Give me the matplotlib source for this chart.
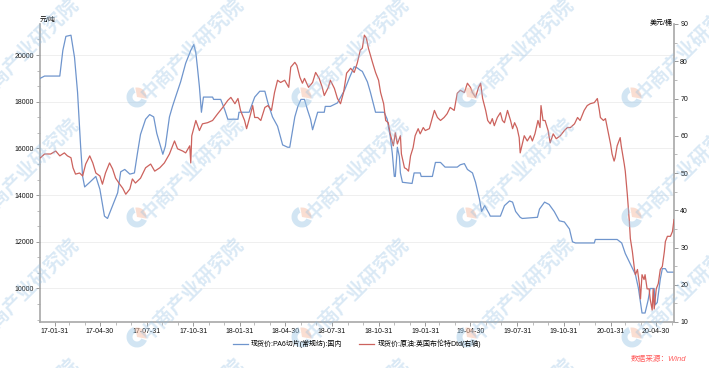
import matplotlib
matplotlib.use('Agg')
import matplotlib.pyplot as plt
import pandas as pd
from matplotlib.ticker import AutoMinorLocator, MultipleLocator
from matplotlib.patches import Wedge
from matplotlib.lines import Line2D

plt.rcParams['font.family'] = ['Liberation Sans', 'Noto Sans CJK SC', 'DejaVu Sans']

# ---------------- data ----------------
blue_label = '现货价:PA6切片(常规纺):国内'
red_label = '现货价:原油:英国布伦特Dtd(右轴)'
left_unit = '元/吨'
right_unit = '美元/桶'
source_text = '数据来源：Wind'

blue_dates = ['2017-01-02','2017-01-11','2017-02-10','2017-02-16','2017-02-22','2017-03-04','2017-03-11','2017-03-17','2017-03-23','2017-03-27',
              '2017-03-31','2017-04-10','2017-04-22','2017-04-30','2017-05-09','2017-05-15','2017-05-25','2017-06-04','2017-06-10','2017-06-18',
              '2017-06-28','2017-07-07','2017-07-13','2017-07-19','2017-07-29','2017-08-06','2017-08-14','2017-08-20','2017-09-01','2017-09-06',
              '2017-09-14','2017-09-20','2017-09-26','2017-10-06','2017-10-16','2017-10-26','2017-11-01','2017-11-05','2017-11-08','2017-11-12',
              '2017-11-16','2017-11-20','2017-12-08','2017-12-10','2017-12-24','2018-01-01','2018-01-07','2018-01-27','2018-01-29','2018-02-18',
              '2018-03-01','2018-03-11','2018-03-21','2018-03-27','2018-04-05','2018-04-15','2018-04-25','2018-05-05','2018-05-09','2018-05-19',
              '2018-05-25','2018-05-31','2018-06-07','2018-06-13','2018-06-19','2018-06-23','2018-06-27','2018-07-03','2018-07-16','2018-07-18',
              '2018-07-28','2018-08-11','2018-08-25','2018-09-04','2018-09-13','2018-09-19','2018-09-25','2018-09-29','2018-10-09','2018-10-15',
              '2018-10-25','2018-11-11','2018-11-17','2018-11-23','2018-11-27','2018-12-01','2018-12-03','2018-12-07','2018-12-11','2018-12-13',
              '2018-12-17','2019-01-05','2019-01-09','2019-01-21','2019-01-23','2019-02-14','2019-02-20','2019-03-02','2019-03-11','2019-04-04',
              '2019-04-10','2019-04-18','2019-04-24','2019-05-04','2019-05-10','2019-05-18','2019-05-22','2019-05-28','2019-06-06','2019-06-08',
              '2019-06-28','2019-07-06','2019-07-16','2019-07-22','2019-07-28','2019-08-06','2019-08-10','2019-09-09','2019-09-13','2019-09-23',
              '2019-10-02','2019-10-12','2019-10-22','2019-11-01','2019-11-11','2019-11-17','2019-11-23','2019-12-30','2020-01-01','2020-02-13',
              '2020-02-22','2020-02-29','2020-03-10','2020-03-20','2020-03-26','2020-03-30','2020-04-02','2020-04-08','2020-04-14','2020-04-18',
              '2020-04-26','2020-04-28','2020-05-02','2020-05-08','2020-05-12','2020-05-18','2020-05-22','2020-06-04']
blue_values = [19000,19100,19100,20200,20800,20850,19900,18400,16100,14800,
               14350,14550,14800,14250,13100,13000,13550,14100,15000,15100,
               14900,14950,15800,16600,17250,17450,17350,16650,15750,16100,
               17350,17800,18200,18850,19650,20200,20450,20100,19500,18650,
               17550,18200,18200,18100,18100,17650,17250,17250,17550,17550,
               18200,18450,18450,17950,17350,16950,16150,16050,16050,17350,
               17800,18100,18100,17650,17250,16800,17100,17550,17550,17800,
               17800,17950,18500,19050,19500,19450,19350,19300,18850,18400,
               17550,17550,17250,16500,15800,14800,14800,16050,15650,14950,
               14550,14500,14950,14950,14800,14800,15400,15400,15200,15200,
               15300,15350,15100,14950,14550,13800,13300,13550,13200,13100,
               13100,13550,13750,13700,13300,13050,13000,13050,13400,13700,
               13600,13300,12900,12850,12550,12000,11950,11950,12100,12100,
               11950,11500,11050,10600,10000,9400,8950,8950,9500,10000,
               10000,9300,9400,10400,10850,10850,10700,10700]

red_dates = ['2017-01-03','2017-01-11','2017-01-23','2017-02-02','2017-02-10','2017-02-19','2017-02-25','2017-03-04','2017-03-08','2017-03-13',
             '2017-03-21','2017-03-27','2017-04-02','2017-04-10','2017-04-16','2017-04-22','2017-04-30','2017-05-05','2017-05-11','2017-05-19',
             '2017-05-25','2017-05-31','2017-06-08','2017-06-14','2017-06-20','2017-06-28','2017-07-03','2017-07-09','2017-07-19','2017-07-29',
             '2017-08-08','2017-08-16','2017-08-26','2017-09-04','2017-09-14','2017-09-24','2017-09-30','2017-10-10','2017-10-16','2017-10-24',
             '2017-10-26','2017-10-28','2017-11-05','2017-11-12','2017-11-18','2017-11-28','2017-12-08','2017-12-18','2017-12-28','2018-01-07',
             '2018-01-13','2018-01-21','2018-01-27','2018-02-01','2018-02-09','2018-02-13','2018-02-21','2018-02-25','2018-03-01','2018-03-07',
             '2018-03-13','2018-03-21','2018-03-27','2018-04-03','2018-04-09','2018-04-15','2018-04-21','2018-04-29','2018-05-07','2018-05-11',
             '2018-05-19','2018-05-23','2018-05-29','2018-06-03','2018-06-07','2018-06-15','2018-06-23','2018-06-29','2018-07-06','2018-07-12',
             '2018-07-16','2018-07-24','2018-07-28','2018-08-05','2018-08-11','2018-08-17','2018-08-23','2018-08-29','2018-09-06','2018-09-13',
             '2018-09-19','2018-09-25','2018-09-29','2018-10-03','2018-10-07','2018-10-11','2018-10-15','2018-10-19','2018-10-25','2018-10-31',
             '2018-11-04','2018-11-10','2018-11-14','2018-11-19','2018-11-23','2018-11-29','2018-12-03','2018-12-07','2018-12-13','2018-12-15',
             '2018-12-21','2018-12-25','2018-12-29','2019-01-02','2019-01-07','2019-01-11','2019-01-17','2019-01-21','2019-01-27','2019-01-31',
             '2019-02-08','2019-02-14','2019-02-18','2019-02-24','2019-03-02','2019-03-09','2019-03-15','2019-03-21','2019-03-29','2019-04-04',
             '2019-04-10','2019-04-18','2019-04-24','2019-04-30','2019-05-04','2019-05-10','2019-05-16','2019-05-20','2019-05-24','2019-05-30',
             '2019-06-03','2019-06-08','2019-06-12','2019-06-16','2019-06-22','2019-06-28','2019-07-02','2019-07-06','2019-07-12','2019-07-18',
             '2019-07-22','2019-07-26','2019-07-31','2019-08-04','2019-08-06','2019-08-14','2019-08-20','2019-08-26','2019-08-30','2019-09-04',
             '2019-09-10','2019-09-14','2019-09-16','2019-09-20','2019-09-24','2019-09-30','2019-10-04','2019-10-10','2019-10-16','2019-10-24',
             '2019-11-01','2019-11-07','2019-11-13','2019-11-21','2019-11-27','2019-12-02','2019-12-10','2019-12-16','2019-12-22','2019-12-30',
             '2020-01-05','2020-01-09','2020-01-11','2020-01-17','2020-01-21','2020-01-27','2020-01-31','2020-02-03','2020-02-07','2020-02-09',
             '2020-02-13','2020-02-19','2020-02-21','2020-02-27','2020-02-29','2020-03-04','2020-03-08','2020-03-10','2020-03-14','2020-03-18',
             '2020-03-20','2020-03-24','2020-03-28','2020-03-30','2020-04-02','2020-04-06','2020-04-08','2020-04-12','2020-04-16','2020-04-18',
             '2020-04-22','2020-04-24','2020-04-26','2020-04-30','2020-05-04','2020-05-08','2020-05-12','2020-05-16','2020-05-18','2020-05-22',
             '2020-05-28','2020-06-01','2020-06-04']
red_values = [54.1,55.1,55.1,55.9,54.6,55.4,54.6,54.1,51.4,49.7,
              50.0,49.2,52.4,54.6,52.7,50.0,49.2,47.0,50.0,52.7,
              51.1,48.6,47.0,45.9,44.3,45.7,48.4,47.3,48.6,51.4,
              52.4,50.5,51.4,52.7,55.1,58.6,56.5,55.9,55.4,57.3,
              52.7,60.0,64.1,61.4,63.2,63.5,64.1,65.9,67.6,69.5,
              70.3,68.6,70.0,66.8,64.1,61.9,65.9,68.1,64.9,64.9,
              64.1,67.6,68.1,66.8,71.6,74.9,74.3,74.9,73.0,78.4,
              79.7,78.9,75.7,74.1,75.4,73.0,74.3,77.0,75.4,73.0,
              70.8,73.0,74.9,72.7,70.0,68.6,71.6,76.8,78.1,77.0,
              79.5,83.0,83.5,87.0,86.2,83.5,81.6,79.7,77.0,74.9,
              71.6,68.6,64.1,63.5,60.5,57.3,60.8,57.8,60.0,55.1,
              51.4,51.1,50.5,54.6,56.8,60.0,61.9,60.5,62.2,61.4,
              61.9,64.9,66.8,64.9,64.1,64.9,65.9,67.6,66.8,71.4,
              72.2,71.6,74.1,73.0,71.6,70.3,73.0,74.1,70.0,66.8,
              64.1,63.2,64.6,62.7,64.9,66.2,64.1,63.5,66.8,64.1,
              61.9,63.5,62.0,59.5,55.4,60.0,58.6,60.0,58.6,60.5,
              64.1,62.2,68.1,64.1,64.1,61.4,58.1,60.5,59.2,60.0,
              61.4,62.2,62.2,63.2,64.9,64.1,66.8,68.1,68.6,68.9,
              70.0,66.8,64.9,64.1,64.6,60.5,57.8,55.1,53.2,54.1,
              57.3,59.5,57.3,52.4,50.5,44.3,37.0,32.4,28.9,24.3,
              22.7,24.1,20.0,16.2,22.7,21.4,22.7,18.9,18.9,16.2,
              13.2,18.9,13.5,18.9,20.3,24.1,24.9,28.9,31.6,33.0,
              33.0,34.3,37.5]

xtick_labels = ['17-01-31','17-04-30','17-07-31','17-10-31','18-01-31','18-04-30','18-07-31',
                '18-10-31','19-01-31','19-04-30','19-07-31','19-10-31','20-01-31','20-04-30']
left_ticks = [10000, 12000, 14000, 16000, 18000, 20000]
right_ticks = [10, 20, 30, 40, 50, 60, 70, 80, 90]

# ---------------- figure ----------------
W, H = 709, 368
fig = plt.figure(figsize=(W / 100, H / 100), dpi=100)
ax = fig.add_axes([40 / W, 46 / H, 634 / W, 298 / H])
ax2 = ax.twinx()

blue_c = '#6f95cd'
red_c = '#cc625d'
ax.plot(pd.to_datetime(blue_dates), blue_values, color=blue_c, lw=0.9, zorder=3)
ax2.plot(pd.to_datetime(red_dates), red_values, color=red_c, lw=0.9, zorder=3)

ax.set_xlim(pd.Timestamp('2017-01-02'), pd.Timestamp('2020-06-04'))
ax.set_ylim(8565, 21330)
ax2.set_ylim(10, 90)

ax.set_yticks(left_ticks)
ax.set_yticklabels([str(v) for v in left_ticks])
ax.yaxis.set_minor_locator(AutoMinorLocator(3))
ax2.set_yticks(right_ticks)
ax2.set_yticklabels([str(v) for v in right_ticks])
ax2.yaxis.set_minor_locator(MultipleLocator(5))

ax.set_xticks(pd.to_datetime(xtick_labels, format='%y-%m-%d'))
ax.set_xticklabels(xtick_labels)
ax.set_xticks(pd.date_range('2017-01-31', '2020-05-31', freq='ME'), minor=True)

spine_c = '#a8a8a8'
for a in (ax, ax2):
    a.tick_params(axis='both', which='major', length=3, width=0.6, color='#8a8a8a',
                  labelsize=5, pad=1.5, labelcolor='#111111')
    a.tick_params(axis='both', which='minor', length=2, width=0.5, color='#a0a0a0')
    a.spines['top'].set_visible(False)
ax.spines['right'].set_visible(False)
ax2.spines['left'].set_visible(False)
ax2.spines['bottom'].set_visible(False)
ax.spines['left'].set_color(spine_c)
ax.spines['left'].set_linewidth(1.2)
ax.spines['bottom'].set_color(spine_c)
ax.spines['bottom'].set_linewidth(1.2)
ax2.spines['right'].set_color(spine_c)
ax2.spines['right'].set_linewidth(1.2)

ax.yaxis.grid(True, which='major', color='#ececec', lw=0.6)
ax.set_axisbelow(True)

fig.text(40 / W, 1 - 20 / H, left_unit, fontsize=5, ha='left', va='center')
fig.text(673 / W, 1 - 23 / H, right_unit, fontsize=5, ha='right', va='center')

handles = [Line2D([], [], color=blue_c, lw=0.9), Line2D([], [], color=red_c, lw=0.9)]
fig.legend(handles, [blue_label, red_label], loc='center', bbox_to_anchor=(357 / W, 1 - 344 / H),
           ncol=2, frameon=False, fontsize=5, handlelength=2.2, columnspacing=2.4,
           handletextpad=0.4)

fig.text(686 / W, 1 - 359 / H, source_text, color='#ff5a5a', fontsize=5.5,
         style='italic', ha='right', va='center')

# ---------------- watermark ----------------
wm_text = '中商产业研究院'
for px in (-28, 137, 302, 467, 632):
    for py in (-23, 97, 217, 337, 457):
        xi, yi = px / 100, (H - py) / 100
        fig.text(xi + 0.07, yi, wm_text, transform=fig.dpi_scale_trans, rotation=45,
                 rotation_mode='anchor', ha='left', va='center', fontsize=14,
                 family=['Noto Sans CJK SC'], weight='bold', color='#8fbde3', alpha=0.33,
                 zorder=5)
        fig.add_artist(Wedge((xi, yi), 0.105, 110, 340, width=0.06, transform=fig.dpi_scale_trans,
                             facecolor='#9cc7e6', edgecolor='none', alpha=0.45, zorder=5))
        fig.add_artist(Wedge((xi, yi), 0.095, 350, 100, transform=fig.dpi_scale_trans,
                             facecolor='#f6bfa6', edgecolor='none', alpha=0.5, zorder=5))

fig.savefig('out.png', dpi=100)
